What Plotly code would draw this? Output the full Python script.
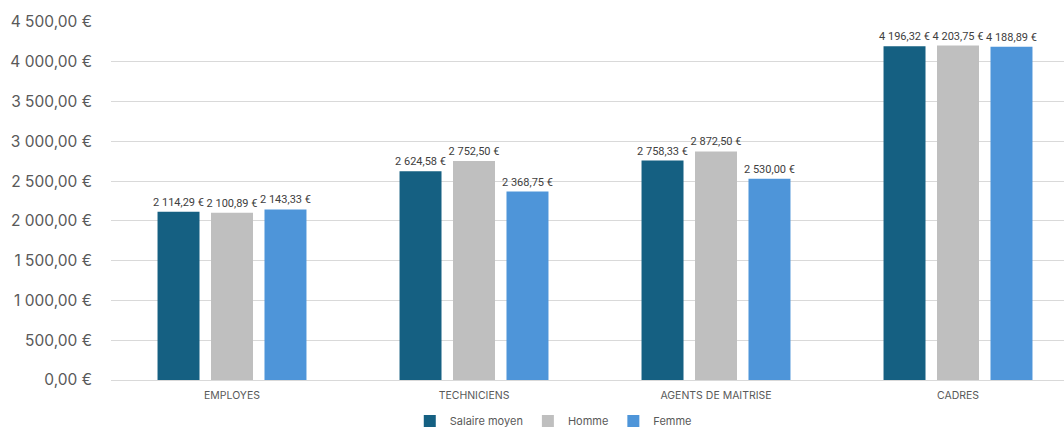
import plotly.graph_objects as go

categories = ["EMPLOYES", "TECHNICIENS", "AGENTS DE MAITRISE", "CADRES"]
salaire_moyen = [2114.29, 2624.58, 2758.33, 4196.32]
homme = [2100.89, 2752.50, 2872.50, 4203.75]
femme = [2143.33, 2368.75, 2530.00, 4188.89]
y_ticks = [0, 500, 1000, 1500, 2000, 2500, 3000, 3500, 4000, 4500]


def fmt_eur(v):
    s = f"{v:,.2f}"
    s = s.replace(",", " ").replace(".", ",")
    return s + " €"


series = [
    ("Salaire moyen", salaire_moyen, "#156082"),
    ("Homme", homme, "#BFBFBF"),
    ("Femme", femme, "#4E95D9"),
]

FONT = "Inter, Noto Sans, sans-serif"
LABEL_FONT = "Roboto, Inter, sans-serif"

fig = go.Figure()
for name, vals, color in series:
    fig.add_trace(go.Bar(
        name=name, x=categories, y=vals,
        marker=dict(color=color, line=dict(width=0)),
        text=[fmt_eur(v) for v in vals],
        textposition="outside",
        constraintext="none",
        textfont=dict(size=11, color="#404040", family=LABEL_FONT),
        cliponaxis=False,
    ))

fig.update_layout(
    width=1064, height=428,
    margin=dict(l=111, r=0, t=22, b=48, autoexpand=False),
    paper_bgcolor="white", plot_bgcolor="white",
    font=dict(family=FONT, color="#595959"),
    barmode="group", bargap=0.337, bargroupgap=0.215,
    showlegend=True,
    legend=dict(orientation="h", x=0.52, xanchor="center", xref="container",
                y=0.05, yanchor="top", yref="container",
                font=dict(size=11, color="#595959", family=FONT), itemwidth=30,
                tracegroupgap=0),
)
fig.update_xaxes(range=[-0.5, 3.438], showgrid=False, showline=True, linecolor="#D9D9D9",
                 linewidth=1, tickfont=dict(size=10.5, color="#595959"), ticks="",
                 ticklabelstandoff=5, automargin=False)
fig.update_yaxes(range=[0, 4500], tickvals=y_ticks, ticktext=[fmt_eur(v) for v in y_ticks],
                 showgrid=True, gridcolor="#D9D9D9", gridwidth=1, zeroline=False,
                 tickfont=dict(size=15.5, color="#595959"), ticks="", ticklabelstandoff=18,
                 automargin=False)

fig.write_html("out.html", config={"displayModeBar": False},
               post_script="document.body.style.margin='0';")
